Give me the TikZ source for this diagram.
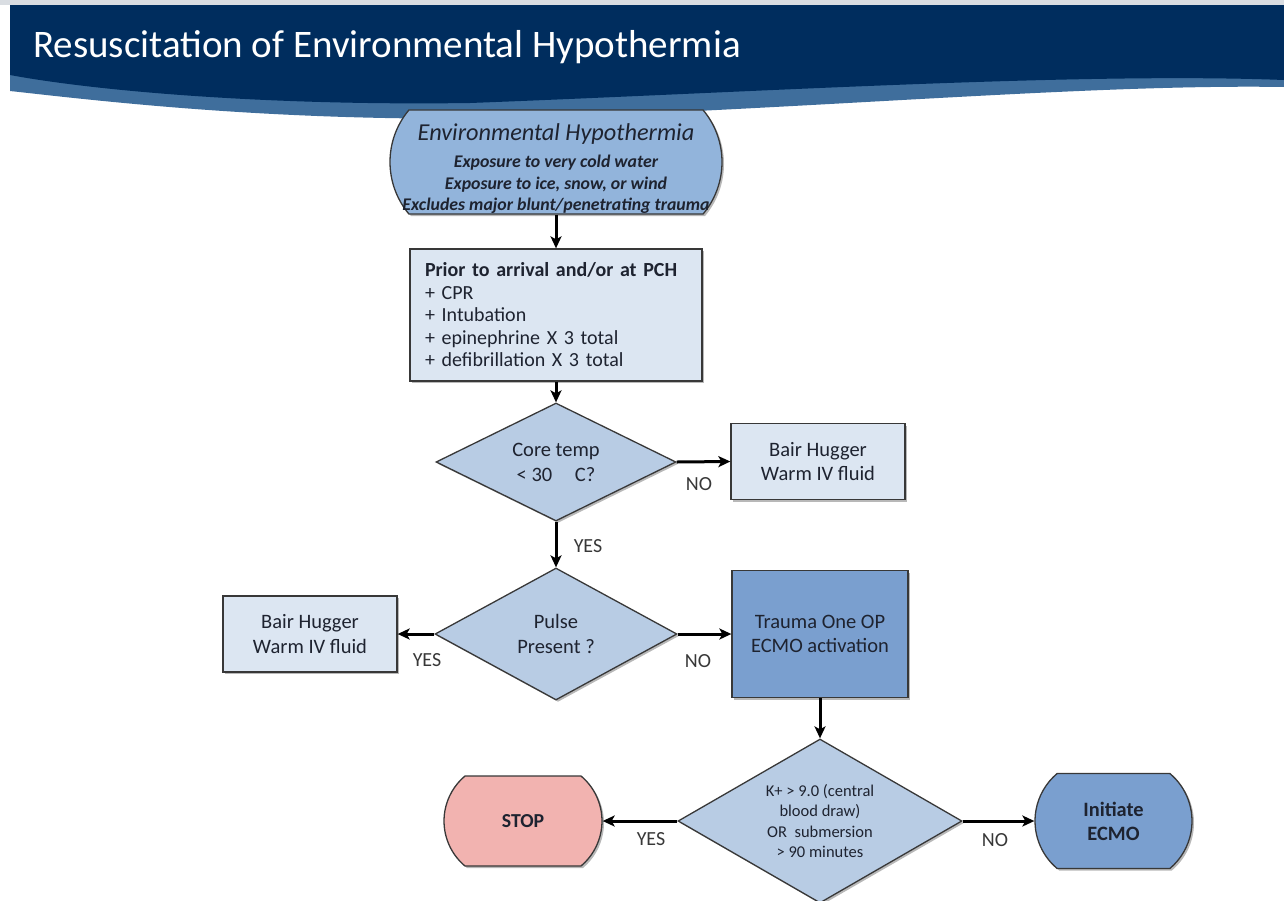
\documentclass[tikz,border=0pt]{standalone}
\usepackage{fontspec}
\setmainfont{Carlito}
\usetikzlibrary{shapes.geometric,shapes.misc,arrows.meta,shadows}

\definecolor{navy}{HTML}{002D5E}
\definecolor{stripe}{HTML}{3F6E9C}
\definecolor{topline}{HTML}{D9DDE2}
\definecolor{edgegray}{HTML}{383838}
\definecolor{inktext}{HTML}{1E2330}
\definecolor{startfill}{HTML}{92B4DB}
\definecolor{boxfill}{HTML}{DCE6F2}
\definecolor{askfill}{HTML}{B8CCE4}
\definecolor{actfill}{HTML}{7A9FCF}
\definecolor{stopfill}{HTML}{F2B3B0}

\tikzset{
  softshadow/.style={drop shadow={shadow xshift=2pt,shadow yshift=-2pt,opacity=.28,fill=black}},
  base/.style={draw=edgegray,line width=1.3pt,inner sep=0pt,text=inktext,align=center,softshadow},
  stepbox/.style={base,rectangle,fill=boxfill,font=\fontsize{20.5}{24.5}\selectfont},
  actbox/.style={stepbox,fill=actfill},
  ask/.style={base,diamond,aspect=2,fill=askfill,font=\fontsize{20.5}{25}\selectfont},
  ends/.style={base,rounded rectangle,rounded rectangle arc length=100},
  flow/.style={line width=3pt,black,-{Stealth[length=12pt,width=11pt,inset=3pt]}},
  lbl/.style={font=\fontsize{20}{20}\selectfont,text=black!78,inner sep=0pt},
}

\begin{document}
\begin{tikzpicture}[x=1pt,y=-1pt]
\useasboundingbox (0,0) rectangle (1284,900);
\fill[white] (0,0) rectangle (1284,900);

% header band with its lighter wave beneath
\fill[topline] (0,0) rectangle (1284,5);
\fill[stripe] (10,60) -- (1284,60) -- (1284,87)
  .. controls (1100,84) and (850,106) .. (560,117)
  .. controls (300,125) and (110,102) .. (10,91) -- cycle;
\fill[navy] (10,5) -- (1284,5) -- (1284,80)
  .. controls (1080,72) and (760,92) .. (470,103)
  .. controls (260,106) and (90,90) .. (10,75) -- cycle;
\node[anchor=base west,text=white,font=\fontsize{39}{39}\selectfont,inner sep=0pt]
  (title) at (33,57) {Resuscitation of Environmental Hypothermia};

% flowchart nodes
% the start terminator keeps its own size: its text block is boxed to a fixed size
\node[ends,rounded rectangle arc length=80,fill=startfill,minimum width=332pt,minimum height=104pt,
      font=\fontsize{17.8}{21.5}\selectfont\bfseries\itshape]
  (env) at (556,162)
  {\raisebox{21.2pt}[50pt][50pt]{\makebox[0pt]{\begin{tabular}[t]{@{}c@{}}
     {\fontsize{24.3}{27}\selectfont\mdseries Environmental Hypothermia}\\[5.5pt]
     Exposure to  very cold water\\
     Exposure to ice, snow, or wind\\
     Excludes major blunt/penetrating trauma
   \end{tabular}}}};

\node[stepbox,minimum width=292pt,minimum height=132pt,text width=262pt,align=left,
      font=\fontsize{20}{22.5}\selectfont]
  (prior) at (556,315)
  {\textbf{Prior to arrival and/or at PCH}\\
   + CPR\\
   + Intubation\\
   + epinephrine X 3 total\\
   + defibrillation X 3 total};

\node[ask,minimum width=240pt,minimum height=118pt] (core) at (556,462)
  {Core temp\\\textless{} 30\hspace{1.1em}C?};

\node[stepbox,minimum width=174pt,minimum height=76pt] (warmA) at (818,461.5)
  {Bair Hugger\\Warm IV fluid};

\node[ask,aspect=1.83,minimum width=242pt,minimum height=132pt] (pulse) at (556,634)
  {Pulse\\Present ?};

\node[stepbox,minimum width=174pt,minimum height=76pt] (warmB) at (310,634)
  {Bair Hugger\\Warm IV fluid};

\node[actbox,minimum width=176pt,minimum height=127pt] (trauma) at (820,634)
  {Trauma One OP\\ECMO activation};

\node[ask,aspect=1.73,minimum width=284pt,minimum height=164pt,font=\fontsize{16.5}{20.5}\selectfont]
  (potassium) at (820,821)
  {K+ \textgreater{} 9.0 (central\\blood draw)\\OR\ \ submersion\\\textgreater{} 90 minutes};

\node[ends,fill=stopfill,minimum width=158pt,minimum height=90pt,font=\fontsize{19.8}{24}\selectfont\bfseries]
  (stop) at (523,821) {STOP};

\node[ends,fill=actfill,minimum width=157pt,minimum height=95pt,font=\fontsize{20.4}{24}\selectfont\bfseries]
  (ecmo) at (1113.5,821) {Initiate\\ECMO};

% connectors
\draw[flow] (env) -- (prior);
\draw[flow] (prior) -- (core);
\draw[flow] (core.east) -- (warmA.west);
\draw[flow] (core.south) -- (pulse.north);
\draw[flow] (pulse.west) -- (warmB.east);
\draw[flow] (pulse.east) -- (trauma.west);
\draw[flow] (trauma.south) -- (potassium.north);
\draw[flow] (potassium.west) -- (stop.east);
\draw[flow] (potassium.east) -- (ecmo.west);

% branch labels
\node[lbl] (noA) at (699,484) {NO};
\node[lbl] (yesA) at (588,546) {YES};
\node[lbl] (yesB) at (427,660) {YES};
\node[lbl] (noB) at (698,661) {NO};
\node[lbl] (yesC) at (651,839) {YES};
\node[lbl] (noC) at (995,840) {NO};
\end{tikzpicture}
\end{document}
